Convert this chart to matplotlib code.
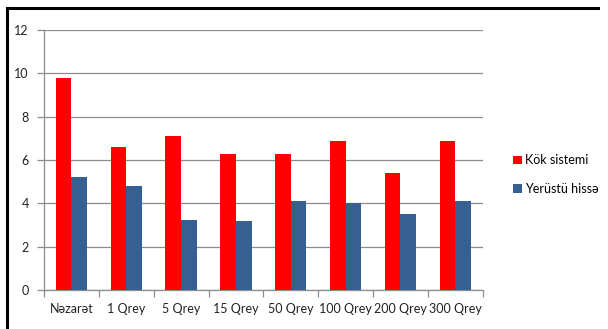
import matplotlib
matplotlib.use("Agg")
import matplotlib.pyplot as plt
import numpy as np
from matplotlib.lines import Line2D

categories = ["Nəzarət", "1 Qrey", "5 Qrey", "15 Qrey", "50 Qrey", "100 Qrey", "200 Qrey", "300 Qrey"]
kok_sistemi = [9.8, 6.6, 7.1, 6.3, 6.3, 6.9, 5.4, 6.9]
yerustu_hisse = [5.2, 4.8, 3.25, 3.2, 4.1, 4.0, 3.5, 4.1]
series_names = ["Kök sistemi", "Yerüstü hissə"]
y_ticks = [0, 2, 4, 6, 8, 10, 12]

RED = "#ff0000"
BLUE = "#366092"
GRID = "#8c8c8c"

plt.rcParams["font.family"] = ["Lato", "DejaVu Sans"]

fig = plt.figure(figsize=(6.08, 3.29), dpi=100)
ax = fig.add_axes([0.0724, 0.1185, 0.7216, 0.7903])

x = np.arange(len(categories))
w = 0.286
ax.bar(x - w / 2, kok_sistemi, width=w, color=RED, zorder=3, label=series_names[0])
ax.bar(x + w / 2, yerustu_hisse, width=w, color=BLUE, zorder=3, label=series_names[1])

ax.set_xlim(-0.5, len(categories) - 0.5)
ax.set_ylim(0, 12)
ax.set_yticks(y_ticks)
ax.yaxis.grid(True, color=GRID, linewidth=0.9, zorder=0)
ax.set_axisbelow(True)

# category labels between boundary ticks
ax.set_xticks(np.arange(-0.5, len(categories)), minor=False)
ax.set_xticklabels([])
ax.set_xticks(x, minor=True)
ax.set_xticklabels(categories, minor=True, fontsize=9, color="#222222")
ax.tick_params(axis="x", which="minor", length=0, pad=9)
ax.tick_params(axis="x", which="major", length=5, color=GRID, width=0.9)
ax.tick_params(axis="y", length=5, color=GRID, width=0.9, labelsize=9, labelcolor="#222222", pad=6)

for s in ["top", "right"]:
    ax.spines[s].set_visible(False)
for s in ["left", "bottom"]:
    ax.spines[s].set_color(GRID)
    ax.spines[s].set_linewidth(0.9)

fig.legend(loc="upper left", bbox_to_anchor=(0.825, 0.565), frameon=False,
           fontsize=9, handlelength=0.7, handleheight=0.7, handletextpad=0.3,
           labelspacing=1.3)

# frame lines (left and top) of the cropped chart
fig.add_artist(Line2D([0.0115, 0.0115], [0, 0.975], transform=fig.transFigure,
                      color="black", linewidth=2.2))
fig.add_artist(Line2D([0.0115, 0.984], [0.975, 0.975], transform=fig.transFigure,
                      color="black", linewidth=2.2))

fig.savefig("out.png", dpi=100)
